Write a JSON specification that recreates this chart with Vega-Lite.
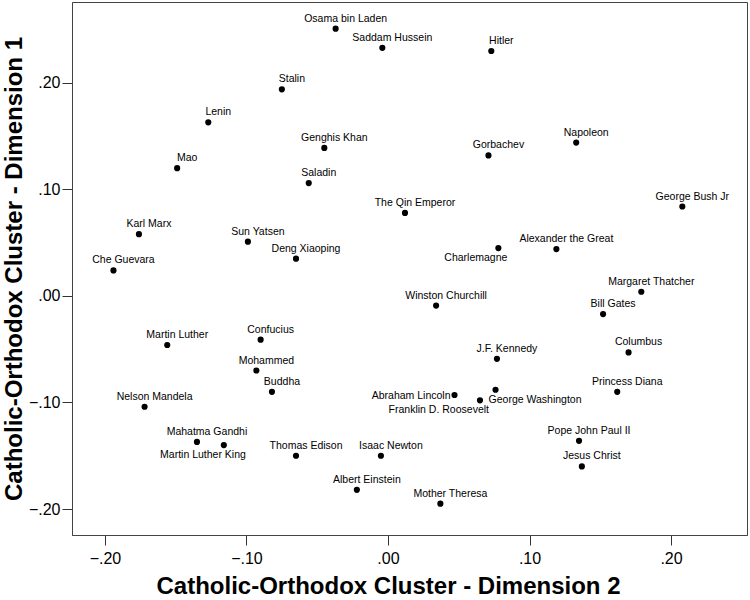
{
  "$schema": "https://vega.github.io/schema/vega-lite/v6.json",
  "width": 675,
  "height": 533,
  "autosize": "none",
  "padding": {"left": 72, "top": 2, "right": 3, "bottom": 65},
  "background": "white",
  "config": {
    "view": {"stroke": "#444444", "strokeWidth": 1},
    "font": "Liberation Sans"
  },
  "data": {
    "values": [
      {"name": "Lenin", "d2": -0.127, "d1": 0.163},
      {"name": "Mao", "d2": -0.149, "d1": 0.120},
      {"name": "Osama bin Laden", "d2": -0.037, "d1": 0.251},
      {"name": "Saddam Hussein", "d2": -0.004, "d1": 0.233},
      {"name": "Hitler", "d2": 0.073, "d1": 0.230},
      {"name": "Stalin", "d2": -0.075, "d1": 0.194},
      {"name": "Genghis Khan", "d2": -0.045, "d1": 0.139},
      {"name": "Gorbachev", "d2": 0.071, "d1": 0.132},
      {"name": "Saladin", "d2": -0.056, "d1": 0.106},
      {"name": "Napoleon", "d2": 0.133, "d1": 0.144},
      {"name": "Karl Marx", "d2": -0.176, "d1": 0.058},
      {"name": "Sun Yatsen", "d2": -0.099, "d1": 0.051},
      {"name": "Che Guevara", "d2": -0.194, "d1": 0.024},
      {"name": "Martin Luther", "d2": -0.156, "d1": -0.046},
      {"name": "The Qin Emperor", "d2": 0.012, "d1": 0.078},
      {"name": "Deng Xiaoping", "d2": -0.065, "d1": 0.035},
      {"name": "Charlemagne", "d2": 0.078, "d1": 0.045},
      {"name": "Winston Churchill", "d2": 0.034, "d1": -0.009},
      {"name": "Confucius", "d2": -0.090, "d1": -0.041},
      {"name": "J.F. Kennedy", "d2": 0.077, "d1": -0.059},
      {"name": "Mohammed", "d2": -0.093, "d1": -0.070},
      {"name": "Buddha", "d2": -0.082, "d1": -0.090},
      {"name": "George Washington", "d2": 0.076, "d1": -0.088},
      {"name": "Abraham Lincoln", "d2": 0.047, "d1": -0.093},
      {"name": "Franklin D. Roosevelt", "d2": 0.065, "d1": -0.098},
      {"name": "George Bush Jr", "d2": 0.208, "d1": 0.084},
      {"name": "Alexander the Great", "d2": 0.119, "d1": 0.044},
      {"name": "Margaret Thatcher", "d2": 0.179, "d1": 0.004},
      {"name": "Bill Gates", "d2": 0.152, "d1": -0.017},
      {"name": "Columbus", "d2": 0.170, "d1": -0.053},
      {"name": "Princess Diana", "d2": 0.162, "d1": -0.090},
      {"name": "Nelson Mandela", "d2": -0.172, "d1": -0.104},
      {"name": "Mahatma Gandhi", "d2": -0.135, "d1": -0.137},
      {"name": "Martin Luther King", "d2": -0.116, "d1": -0.140},
      {"name": "Thomas Edison", "d2": -0.065, "d1": -0.150},
      {"name": "Isaac Newton", "d2": -0.005, "d1": -0.150},
      {"name": "Albert Einstein", "d2": -0.022, "d1": -0.182},
      {"name": "Mother Theresa", "d2": 0.037, "d1": -0.195},
      {"name": "Pope John Paul II", "d2": 0.135, "d1": -0.136},
      {"name": "Jesus Christ", "d2": 0.137, "d1": -0.160}
    ]
  },
  "encoding": {
    "x": {
      "field": "d2", "type": "quantitative",
      "scale": {"domain": [-0.2233, 0.2537], "nice": false, "zero": false},
      "axis": {
        "title": "Catholic-Orthodox Cluster - Dimension 2",
        "values": [-0.2, -0.1, 0, 0.1, 0.2],
        "labelExpr": "replace(format(datum.value, '.2f'), '0.', '.')",
        "grid": false,
        "domainColor": "#444444",
        "tickColor": "#333333",
        "tickSize": 10,
        "labelPadding": 5,
        "labelFontSize": 16,
        "labelColor": "#000000",
        "labelFont": "Liberation Sans",
        "titleFont": "Liberation Sans",
        "titleFontSize": 24,
        "titleFontWeight": "bold",
        "titleColor": "#000000",
        "titleX": 316,
        "titleY": 58,
        "titleBaseline": "alphabetic"
      }
    },
    "y": {
      "field": "d1", "type": "quantitative",
      "scale": {"domain": [-0.2244, 0.276], "nice": false, "zero": false},
      "axis": {
        "title": "Catholic-Orthodox Cluster - Dimension 1",
        "values": [-0.2, -0.1, 0, 0.1, 0.2],
        "labelExpr": "replace(format(datum.value, '.2f'), '0.', '.')",
        "grid": false,
        "domainColor": "#444444",
        "tickColor": "#333333",
        "tickSize": 10,
        "labelPadding": 2,
        "labelFontSize": 16,
        "labelColor": "#000000",
        "labelFont": "Liberation Sans",
        "titleFont": "Liberation Sans",
        "titleFontSize": 24,
        "titleFontWeight": "bold",
        "titleColor": "#000000",
        "titleX": -51,
        "titleBaseline": "alphabetic"
      }
    }
  },
  "layer": [
    {
      "mark": {"type": "point", "shape": "circle", "filled": true, "color": "#000000", "size": 38, "opacity": 1}
    },
    {
      "transform": [{"filter": {"not": {"field": "name", "oneOf": ["Charlemagne", "Franklin D. Roosevelt", "Martin Luther King", "Abraham Lincoln", "George Washington"]}}}],
      "mark": {"type": "text", "align": "center", "baseline": "alphabetic", "dx": 10, "dy": -7, "fontSize": 10.5, "font": "Liberation Sans", "color": "#000000"},
      "encoding": {"text": {"field": "name"}}
    },
    {
      "transform": [{"filter": {"field": "name", "oneOf": ["Charlemagne", "Franklin D. Roosevelt"]}}],
      "mark": {"type": "text", "align": "right", "baseline": "alphabetic", "dx": 9, "dy": 13, "fontSize": 10.5, "font": "Liberation Sans", "color": "#000000"},
      "encoding": {"text": {"field": "name"}}
    },
    {
      "transform": [{"filter": {"field": "name", "oneOf": ["Martin Luther King"]}}],
      "mark": {"type": "text", "align": "right", "baseline": "alphabetic", "dx": 22, "dy": 13, "fontSize": 10.5, "font": "Liberation Sans", "color": "#000000"},
      "encoding": {"text": {"field": "name"}}
    },
    {
      "transform": [{"filter": {"field": "name", "oneOf": ["Abraham Lincoln"]}}],
      "mark": {"type": "text", "align": "right", "baseline": "alphabetic", "dx": -4, "dy": 4, "fontSize": 10.5, "font": "Liberation Sans", "color": "#000000"},
      "encoding": {"text": {"field": "name"}}
    },
    {
      "transform": [{"filter": {"field": "name", "oneOf": ["George Washington"]}}],
      "mark": {"type": "text", "align": "left", "baseline": "alphabetic", "dx": -7, "dy": 13, "fontSize": 10.5, "font": "Liberation Sans", "color": "#000000"},
      "encoding": {"text": {"field": "name"}}
    }
  ]
}
